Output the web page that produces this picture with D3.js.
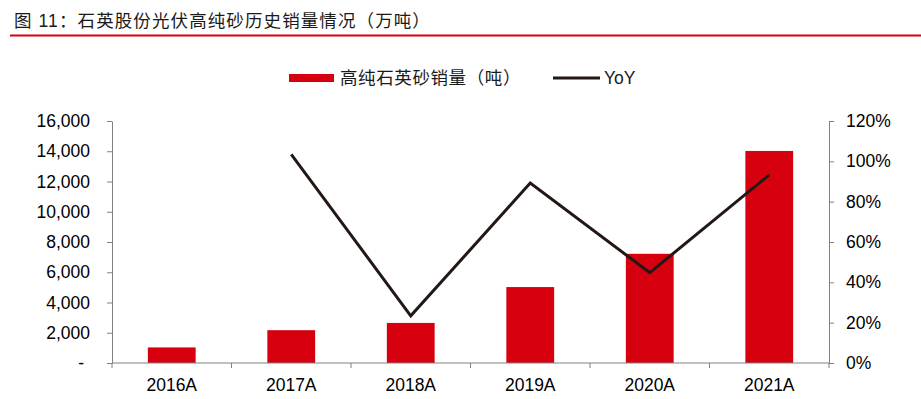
<!DOCTYPE html>
<html>
<head>
<meta charset="utf-8">
<script src="https://cdn.jsdelivr.net/npm/d3@7"></script>
<style>
  body { margin: 0; background: #fff; }
  svg { display: block; font-family: "Liberation Sans", Arial, "Noto Sans CJK SC", sans-serif; }
  .axis path, .axis line { stroke: #808080; }
  .axis text { fill: #000; font-size: 17.5px; }
</style>
</head>
<body>
<svg id="chart" width="921" height="399"></svg>
<script>
// chart data
const years = ['2016A', '2017A', '2018A', '2019A', '2020A', '2021A'];
const sales = [1030, 2170, 2650, 5020, 7220, 14020];
const yoy = [null, 1.035, 0.234, 0.892, 0.448, 0.933];
const leftTicks = [0, 2000, 4000, 6000, 8000, 10000, 12000, 14000, 16000];
const rightTicks = [0, 0.2, 0.4, 0.6, 0.8, 1.0, 1.2];

const svg = d3.select('#chart');
const margin = { top: 121, right: 92, bottom: 36, left: 112 };
const width = 921 - margin.left - margin.right;
const height = 399 - margin.top - margin.bottom;

// title + red rule
svg.append('text')
  .attr('x', 14)
  .attr('y', 27)
  .attr('font-size', '17.5px')
  .attr('letter-spacing', '1.1px')
  .attr('fill', '#1a1a1a')
  .text('图 11：石英股份光伏高纯砂历史销量情况（万吨）');

svg.append('line')
  .attr('x1', 10).attr('x2', 921)
  .attr('y1', 35.5).attr('y2', 35.5)
  .attr('stroke', '#d7000f')
  .attr('stroke-width', 2);

const g = svg.append('g')
  .attr('transform', `translate(${margin.left},${margin.top})`);

const x = d3.scaleBand()
  .domain(years)
  .range([0, width])
  .paddingInner(0.6)
  .paddingOuter(0.3);

const yLeft = d3.scaleLinear().domain([0, 16000]).range([height, 0]);
const yRight = d3.scaleLinear().domain([0, 1.2]).range([height, 0]);

// bars
g.selectAll('.bar')
  .data(sales)
  .enter()
  .append('rect')
  .attr('class', 'bar')
  .attr('x', (d, i) => x(years[i]))
  .attr('y', d => yLeft(d))
  .attr('width', x.bandwidth())
  .attr('height', d => height - yLeft(d))
  .attr('fill', '#d7000f');

// left axis
const leftAxis = g.append('g')
  .attr('class', 'axis')
  .call(d3.axisLeft(yLeft)
    .tickValues(leftTicks)
    .tickSize(5)
    .tickSizeOuter(0)
    .tickPadding(17)
    .tickFormat(d => d === 0 ? '-' : d3.format(',')(d)));
leftAxis.selectAll('text').filter(d => d === 0).attr('dx', '-6px');

// right axis
g.append('g')
  .attr('class', 'axis')
  .attr('transform', `translate(${width},0)`)
  .call(d3.axisRight(yRight)
    .tickValues(rightTicks)
    .tickSize(5)
    .tickSizeOuter(0)
    .tickPadding(12)
    .tickFormat(d3.format('.0%')));

// x axis with ticks between categories
const xAxis = g.append('g')
  .attr('class', 'axis')
  .attr('transform', `translate(0,${height})`);

xAxis.append('line')
  .attr('x1', 0).attr('x2', width)
  .attr('y1', 0).attr('y2', 0);

const bounds = d3.range(years.length + 1).map(i => i * width / years.length);
xAxis.selectAll('.tick-mark')
  .data(bounds)
  .enter()
  .append('line')
  .attr('x1', d => d).attr('x2', d => d)
  .attr('y1', 0).attr('y2', 5);

xAxis.selectAll('.xlabel')
  .data(years)
  .enter()
  .append('text')
  .attr('x', d => x(d) + x.bandwidth() / 2)
  .attr('y', 28)
  .attr('text-anchor', 'middle')
  .text(d => d);

// yoy line
const line = d3.line()
  .defined(d => d != null)
  .x((d, i) => x(years[i]) + x.bandwidth() / 2)
  .y(d => yRight(d));

g.append('path')
  .datum(yoy)
  .attr('fill', 'none')
  .attr('stroke', '#231815')
  .attr('stroke-width', 3)
  .attr('d', line);

// legend
const legend = svg.append('g').attr('font-size', '17.5px');
legend.append('rect')
  .attr('x', 289).attr('y', 74)
  .attr('width', 45).attr('height', 8)
  .attr('fill', '#d7000f');
legend.append('text')
  .attr('x', 340).attr('y', 84)
  .attr('letter-spacing', '0.6px')
  .attr('fill', '#1a1a1a')
  .text('高纯石英砂销量（吨）');
legend.append('line')
  .attr('x1', 553).attr('x2', 600)
  .attr('y1', 78).attr('y2', 78)
  .attr('stroke', '#231815')
  .attr('stroke-width', 3);
legend.append('text')
  .attr('x', 604).attr('y', 84)
  .attr('fill', '#1a1a1a')
  .text('YoY');
</script>
</body>
</html>
